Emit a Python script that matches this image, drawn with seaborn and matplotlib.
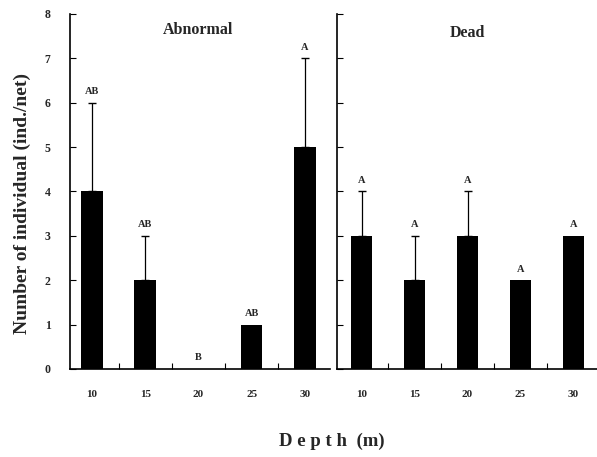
import matplotlib
matplotlib.use("Agg")
import matplotlib.pyplot as plt
import seaborn as sns
import numpy as np
import pandas as pd

depths = ["10", "15", "20", "25", "30"]
abnormal_mean = [4, 2, 0, 1, 5]
abnormal_err = [2, 1, 0, 0, 2]
abnormal_letters = ["AB", "AB", "B", "AB", "A"]
dead_mean = [3, 2, 3, 2, 3]
dead_err = [1, 1, 1, 0, 0]
dead_letters = ["A", "A", "A", "A", "A"]
yticks = [0, 1, 2, 3, 4, 5, 6, 7, 8]

sns.set_style("white")
plt.rcParams['font.family'] = ['Liberation Serif', 'DejaVu Serif']
plt.rcParams['font.weight'] = 'bold'

fig = plt.figure(figsize=(5.97, 4.57), dpi=100)
axL = fig.add_axes([0.1173, 0.1926, 0.4355, 0.7768])
axR = fig.add_axes([0.5645, 0.1926, 0.4355, 0.7768])

panels = [
    (axL, abnormal_mean, abnormal_err, abnormal_letters, "Abnormal", (-0.41, 4.47), 7.64),
    (axR, dead_mean, dead_err, dead_letters, "Dead", (-0.47, 4.45), 7.57),
]

for ax, mean, err, letters, title, xl, ty in panels:
    df = pd.DataFrame({"depth": depths, "value": mean})
    sns.barplot(data=df, x="depth", y="value", ax=ax, color="black",
                width=0.4, saturation=1, edgecolor="black", linewidth=0)
    xs = np.arange(len(depths))
    show = [i for i in range(len(depths)) if err[i] > 0]
    ax.errorbar(xs[show], np.array(mean)[show],
                yerr=[np.zeros(len(show)), np.array(err)[show]],
                fmt="none", ecolor="black", elinewidth=0.9, capsize=3.2, capthick=1.0)
    for i, (m, e, lab) in enumerate(zip(mean, err, letters)):
        ax.text(i, m + e + 0.15, lab, ha="center", va="bottom",
                fontsize=7.5, fontweight="bold")
    ax.text(2.0, ty, title, ha="center", va="center", fontsize=11.5, fontweight="bold")
    ax.set_xlim(*xl)
    ax.set_ylim(0, 8)
    ax.set_yticks(yticks)
    ax.set_xlabel("")
    ax.set_ylabel("")
    ax.set_xticks(xs)
    ax.set_xticklabels(depths, fontsize=8, fontweight="bold")
    ax.set_xticks(xs[:-1] + 0.5, minor=True)
    ax.tick_params(axis="x", which="both", bottom=True)
    ax.tick_params(axis="y", which="major", left=True)
    ax.tick_params(axis="x", which="major", length=0, pad=15)
    ax.tick_params(axis="x", which="minor", length=4, direction="in", width=0.8, color="black")
    ax.tick_params(axis="y", which="major", length=4, direction="in", width=0.8, color="black")
    for s in ["top", "right"]:
        ax.spines[s].set_visible(False)
    for s in ["left", "bottom"]:
        ax.spines[s].set_color("black")
        ax.spines[s].set_linewidth(1.2)
    ax.set_facecolor("white")

axL.set_yticklabels([str(v) for v in yticks], fontsize=8.5, fontweight="bold")
axL.tick_params(axis="y", pad=14)
axR.set_yticklabels([])

fig.text(0.037, 0.555, "Number of individual (ind./net)", rotation=90,
         ha="center", va="center", fontsize=14, fontweight="bold")
fig.text(0.556, 0.035, "D e p t h  (m)", ha="center", va="center",
         fontsize=13.5, fontweight="bold")

fig.savefig("out.png", dpi=100, facecolor="white")
